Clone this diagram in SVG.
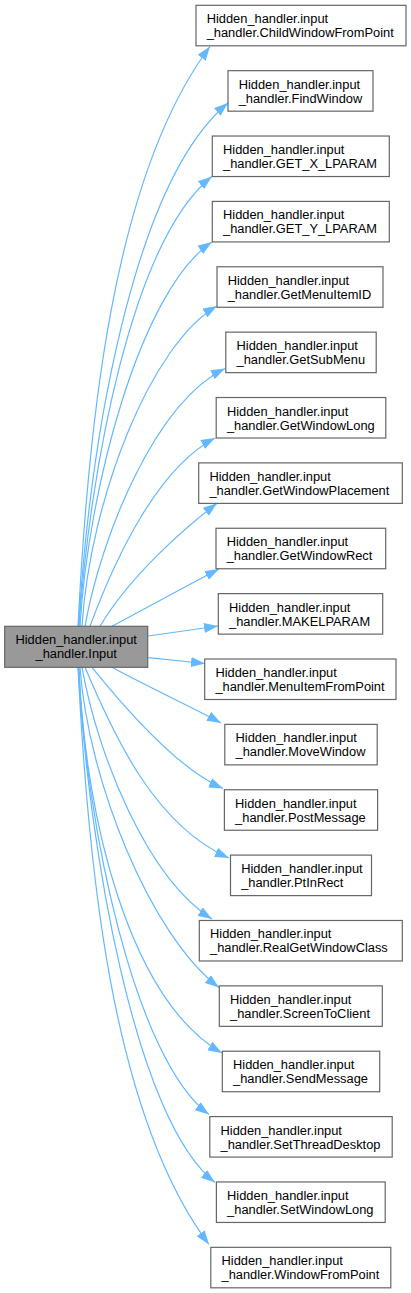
<svg xmlns="http://www.w3.org/2000/svg" width="411" height="1293" viewBox="0 0 411 1293">
<style>
.node rect{fill:#ffffff;stroke:#666666;stroke-width:1.2}
#n_input rect{fill:#999999}
text{font-family:"Liberation Sans",Arial,Helvetica,sans-serif;font-size:12.85px;fill:#000000}
.edges path{fill:none;stroke:#63b8ff;stroke-width:1.2;marker-end:url(#ah)}
</style>
<defs>
<marker id="ah" markerUnits="userSpaceOnUse" markerWidth="14" markerHeight="10" viewBox="0 0 14 10" refX="14" refY="5" orient="auto">
<path d="M0,0 L14,5 L0,10 z" fill="#63b8ff"/>
</marker>
</defs>
<rect width="411" height="1293" fill="#ffffff"/>
<g class="edges" id="edges">
<path d="M78,626.3 C88,426 112.5,176.5 210,46.5"/>
<path d="M78.5,626.3 C90,443 132,183 228,103"/>
<path d="M79,626.3 C90,469 132,240 212,176.5"/>
<path d="M80,626.3 C88,490 140,290 212,242"/>
<path d="M82,626.3 C90,500 150,345 217,306"/>
<path d="M85,626.3 C101,536 155,403 225,368.5"/>
<path d="M90,626.3 C116,556 158,468 215,438"/>
<path d="M100,626.3 C130,576 184.5,528 217,503.3"/>
<path d="M112,626.3 C150,606 190,584 219,569"/>
<path d="M148.3,636 L218,626"/>
<path d="M148.3,657.7 L205,663.5"/>
<path d="M112,667.3 C150,688 190,706 221,723"/>
<path d="M92,667.3 C124,707 177,768.5 223,788.5"/>
<path d="M85,667.3 C114.4,737 155.4,826 229,858"/>
<path d="M82,667.3 C98,757 148,879 212,919"/>
<path d="M80,667.3 C88,780 150,935 219,987.5"/>
<path d="M79,667.3 C85,820 130,1000 222,1053"/>
<path d="M78.5,667.3 C86,827 135,1060 209,1114.5"/>
<path d="M78,667.3 C89,850 135,1120 215,1182.5"/>
<path d="M78,667.3 C88,867 111.5,1114.5 209,1244.5"/>
</g>
<g class="node" id="n_input"><rect x="4.7" y="626.3" width="143" height="41"/><text x="76.2" y="644.3" text-anchor="middle">Hidden_handler.input</text><text x="76.2" y="658.3" text-anchor="middle">_handler.Input</text></g>
<g class="node" id="n0"><rect x="196" y="5.3" width="210" height="40.5"/><text x="206.7" y="23.3">Hidden_handler.input</text><text x="206.7" y="37.3">_handler.ChildWindowFromPoint</text></g>
<g class="node" id="n1"><rect x="228" y="70.67" width="145" height="40.5"/><text x="238.7" y="88.67">Hidden_handler.input</text><text x="238.7" y="102.67">_handler.FindWindow</text></g>
<g class="node" id="n2"><rect x="212.3" y="136.04" width="177" height="40.5"/><text x="223" y="154.04">Hidden_handler.input</text><text x="223" y="168.04">_handler.GET_X_LPARAM</text></g>
<g class="node" id="n3"><rect x="212.3" y="201.41" width="177" height="40.5"/><text x="223" y="219.41">Hidden_handler.input</text><text x="223" y="233.41">_handler.GET_Y_LPARAM</text></g>
<g class="node" id="n4"><rect x="217" y="266.78" width="166" height="40.5"/><text x="227.7" y="284.78">Hidden_handler.input</text><text x="227.7" y="298.78">_handler.GetMenuItemID</text></g>
<g class="node" id="n5"><rect x="225.8" y="332.15" width="150.4" height="40.5"/><text x="236.5" y="350.15">Hidden_handler.input</text><text x="236.5" y="364.15">_handler.GetSubMenu</text></g>
<g class="node" id="n6"><rect x="216.2" y="397.52" width="169.6" height="40.5"/><text x="226.9" y="415.52">Hidden_handler.input</text><text x="226.9" y="429.52">_handler.GetWindowLong</text></g>
<g class="node" id="n7"><rect x="198.7" y="462.89" width="203.6" height="40.5"/><text x="209.4" y="480.89">Hidden_handler.input</text><text x="209.4" y="494.89">_handler.GetWindowPlacement</text></g>
<g class="node" id="n8"><rect x="216" y="528.26" width="169.7" height="40.5"/><text x="226.7" y="546.26">Hidden_handler.input</text><text x="226.7" y="560.26">_handler.GetWindowRect</text></g>
<g class="node" id="n9"><rect x="218.3" y="593.63" width="164.4" height="40.5"/><text x="229" y="611.63">Hidden_handler.input</text><text x="229" y="625.63">_handler.MAKELPARAM</text></g>
<g class="node" id="n10"><rect x="204.7" y="659" width="191.3" height="40.5"/><text x="215.4" y="677">Hidden_handler.input</text><text x="215.4" y="691">_handler.MenuItemFromPoint</text></g>
<g class="node" id="n11"><rect x="224.8" y="724.37" width="152.4" height="40.5"/><text x="235.5" y="742.37">Hidden_handler.input</text><text x="235.5" y="756.37">_handler.MoveWindow</text></g>
<g class="node" id="n12"><rect x="224.4" y="789.74" width="153.2" height="40.5"/><text x="235.1" y="807.74">Hidden_handler.input</text><text x="235.1" y="821.74">_handler.PostMessage</text></g>
<g class="node" id="n13"><rect x="230.5" y="855.11" width="141" height="40.5"/><text x="241.2" y="873.11">Hidden_handler.input</text><text x="241.2" y="887.11">_handler.PtInRect</text></g>
<g class="node" id="n14"><rect x="199.3" y="920.48" width="203" height="40.5"/><text x="210" y="938.48">Hidden_handler.input</text><text x="210" y="952.48">_handler.RealGetWindowClass</text></g>
<g class="node" id="n15"><rect x="219.3" y="985.85" width="163" height="40.5"/><text x="230" y="1003.85">Hidden_handler.input</text><text x="230" y="1017.85">_handler.ScreenToClient</text></g>
<g class="node" id="n16"><rect x="222.3" y="1051.22" width="157.4" height="40.5"/><text x="233" y="1069.22">Hidden_handler.input</text><text x="233" y="1083.22">_handler.SendMessage</text></g>
<g class="node" id="n17"><rect x="209.8" y="1116.59" width="182.4" height="40.5"/><text x="220.5" y="1134.59">Hidden_handler.input</text><text x="220.5" y="1148.59">_handler.SetThreadDesktop</text></g>
<g class="node" id="n18"><rect x="216.4" y="1181.96" width="168.8" height="40.5"/><text x="227.1" y="1199.96">Hidden_handler.input</text><text x="227.1" y="1213.96">_handler.SetWindowLong</text></g>
<g class="node" id="n19"><rect x="210.8" y="1247.33" width="180" height="40.5"/><text x="221.5" y="1265.33">Hidden_handler.input</text><text x="221.5" y="1279.33">_handler.WindowFromPoint</text></g>
</svg>
